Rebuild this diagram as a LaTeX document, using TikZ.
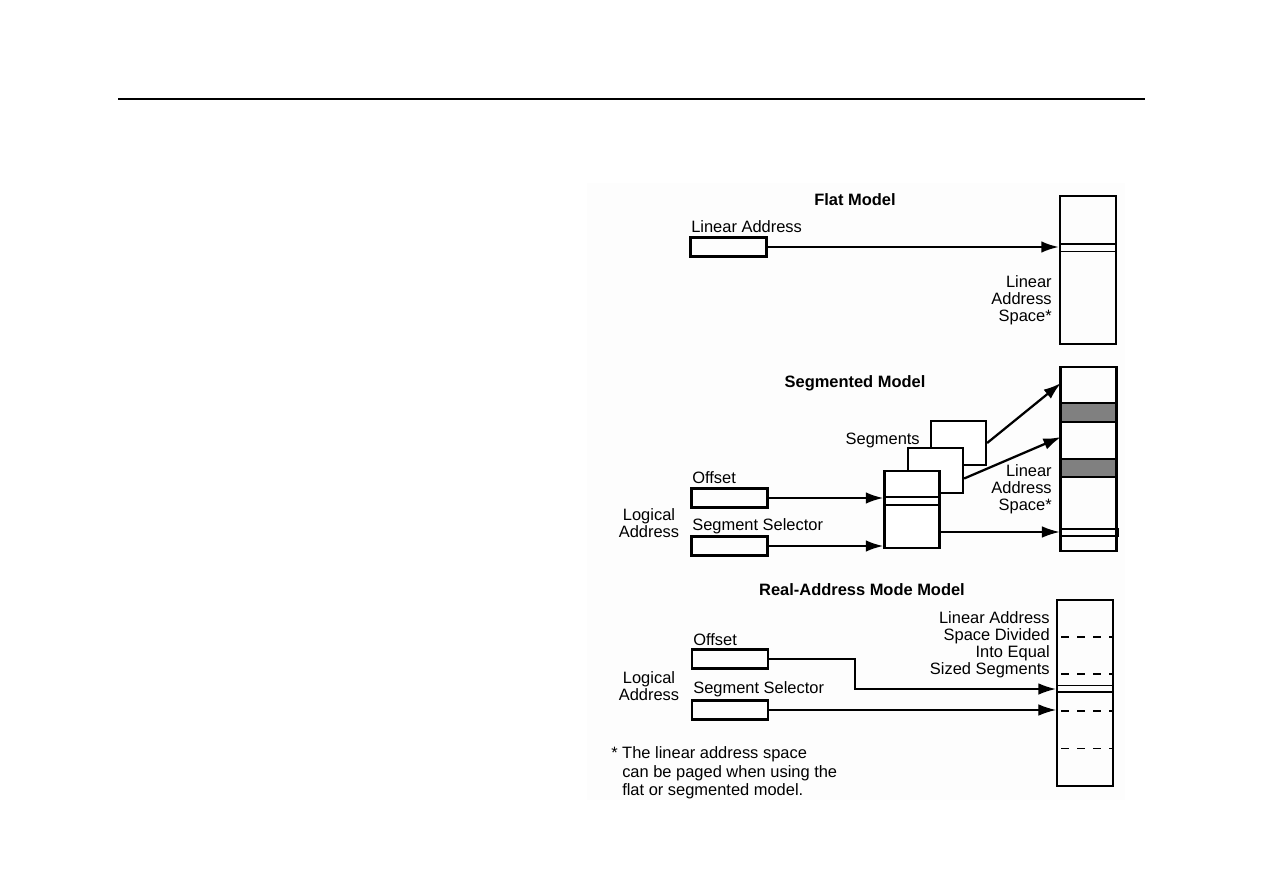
\documentclass[tikz,border=0pt]{standalone}
\usepackage{fontspec}
\setmainfont{Liberation Sans}
\usetikzlibrary{arrows.meta,calc}
\definecolor{bandgray}{RGB}{128,128,128}
\definecolor{panelfill}{RGB}{253,253,253}
\tikzset{
  font=\fontsize{11.7}{12.1}\selectfont,
  >={Latex[length=4.4mm,width=2.9mm]},
  field/.style={
    draw,
    line width=1.6pt,
    inner sep=0pt,
    minimum width=19mm,
    minimum height=4.75mm
  },
  space/.style={
    draw,
    line width=1.6pt,
    inner sep=0pt,
    minimum width=14mm
  },
  segbox/.style={space,fill=white,minimum width=13.75mm},
  tag/.style={inner sep=0pt,align=center},
  heading/.style={tag,font=\fontsize{11.7}{12.1}\selectfont\bfseries},
  arrow/.style={->,line width=1.6pt},
  thinarrow/.style={->,line width=0.8pt},
  split/.style={line width=1.3pt},
  splitthin/.style={line width=0.7pt},
  division/.style={line width=1.3pt,dash pattern=on 2mm off 2mm,dash phase=-1mm}
}

\begin{document}
\begin{tikzpicture}[x=0.25mm,y=-0.25mm]
  \useasboundingbox (0,0) rectangle (1263,893);
  \draw[line width=0.9pt] (118,99) -- (1145,99);
  \fill[panelfill] (587,183) rectangle (1125,800);

  % flat model
  \node[heading] (flattitle) at (855,200) {Flat Model};
  \node[tag,anchor=west] (flatlbl) at (691,227) {Linear Address};
  \node[field] (flataddr) at (728.5,247) {};
  \node[space,minimum height=37mm] (flatspace) at (1088,270) {};
  \draw[split] (1060,244) -- (1116,244);
  \draw[splitthin] (1060,251) -- (1116,251);
  \node[tag,align=right,anchor=east] (flatspacelbl) at (1052,300) {Linear\\Address\\Space*};
  \draw[arrow] (flataddr.east) -- (flataddr.east -| flatspace.west);

  % segmented model
  \node[heading] (segtitle) at (855,383) {Segmented Model};
  \node[space,minimum height=46mm] (segspace) at (1088.5,459) {};
  \draw[fill=bandgray,line width=1.6pt] (1061,403) rectangle (1116,422);
  \draw[fill=bandgray,line width=1.6pt] (1061,459) rectangle (1116,477);
  \draw[line width=1.6pt] (1061,529) rectangle (1118,536);
  \node[tag,align=right,anchor=east] (segspacelbl) at (1052,489) {Linear\\Address\\Space*};

  \node[segbox,minimum height=11mm] (segc) at (958.5,443) {};
  \node[segbox,minimum height=11.25mm] (segb) at (935.5,470.5) {};
  \node[segbox,minimum height=19.25mm] (sega) at (912,509.5) {};
  \draw[split] (884,497) -- (940,497);
  \draw[split] (884,505) -- (940,505);
  \node[tag,anchor=east] (seglbl) at (920,440) {Segments};

  \node[tag,anchor=west] (segofflbl) at (692,478) {Offset};
  \node[field] (segoff) at (729.5,498) {};
  \node[tag,anchor=west] (segsellbl) at (692,526) {Segment Selector};
  \node[field] (segsel) at (729.5,546) {};
  \node[tag] (seglogical) at (649,523) {Logical\\Address};

  \coordinate (segout) at (940,532);
  \coordinate (hitc) at (1061,383);
  \coordinate (hitb) at (1061,437);
  \draw[arrow] (segoff.east) -- (segoff.east -| sega.west);
  \draw[arrow] (segsel.east) -- (segsel.east -| sega.west);
  \draw[thinarrow] (segout) -- (segout -| segspace.west);
  \draw[arrow] (segc.east) -- (hitc);
  \draw[arrow] ([yshift=-2mm]segb.east) -- (hitb);

  % real-address mode model
  \node[heading] (realtitle) at (862,590) {Real-Address Mode Model};
  \node[space,minimum height=46.5mm] (realspace) at (1085,693) {};
  \draw[division] (1057,637) -- (1113,637);
  \draw[division] (1057,674) -- (1113,674);
  \draw[division] (1057,711) -- (1113,711);
  \draw[division,line width=0.7pt] (1057,748) -- (1113,748);
  \draw[splitthin] (1057,685) -- (1113,685);
  \draw[split] (1057,692) -- (1113,692);
  \node[tag,align=right,anchor=east] (realspacelbl) at (1050,645)
    {Linear Address\\Space Divided\\Into Equal\\Sized Segments};

  \node[tag,anchor=west] (realofflbl) at (693,640) {Offset};
  \node[field] (realoff) at (730,659) {};
  \node[tag,anchor=west] (realsellbl) at (693,689) {Segment Selector};
  \node[field] (realsel) at (730,710) {};
  \node[tag] (reallogical) at (649,686) {Logical\\Address};

  \coordinate (realbend) at (855,689);
  \draw[thinarrow,line width=1.1pt] (realoff.east) -| (realbend) -- (realbend -| realspace.west);
  \draw[thinarrow] (realsel.east) -- (realsel.east -| realspace.west);

  \node[tag,align=left,anchor=west,font=\fontsize{11.7}{13}\selectfont] (footnote) at (611,773)
    {*\ The linear address space\\\hphantom{*\ }can be paged when using the\\\hphantom{*\ }flat or segmented model.};
\end{tikzpicture}
\end{document}
